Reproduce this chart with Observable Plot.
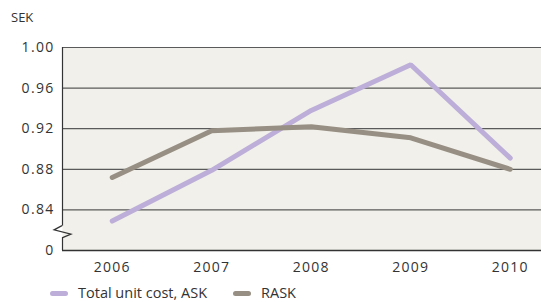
<!DOCTYPE html>
<html><head><meta charset="utf-8">
<script src="https://cdn.jsdelivr.net/npm/d3@7"></script>
<script src="https://cdn.jsdelivr.net/npm/@observablehq/plot@0.6"></script>
<style>
body{margin:0;background:#fff;font-family:"Open Sans",sans-serif;}
#wrap{position:relative;width:541px;height:302px;overflow:hidden;}
#unit{position:absolute;left:11px;top:8px;font-size:13px;color:#333;}
#legend{position:absolute;left:50px;top:285px;height:16px;line-height:16px;font-size:14.5px;color:#333;display:flex;align-items:center;}
.sw{display:inline-block;width:18px;height:5px;border-radius:3px;margin-right:10px;}
.item{display:flex;align-items:center;margin-right:26px;white-space:nowrap;}
</style></head>
<body><div id="wrap"><div id="unit">SEK</div><div id="chart"></div>
<div id="legend"></div></div>
<script>
const years = [2006, 2007, 2008, 2009, 2010];
const askValues = [0.829, 0.879, 0.938, 0.983, 0.891];
const raskValues = [0.872, 0.918, 0.922, 0.911, 0.880];
const seriesNames = ["Total unit cost, ASK", "RASK"];
const seriesColors = ["#bcaed8", "#978f83"];
const yTicks = [0.80, 0.84, 0.88, 0.92, 0.96, 1.00];
const axisBreak = [0.812, 0.824];

const rows = [];
years.forEach((yr, i) => {
  rows.push({year: yr, value: askValues[i], series: seriesNames[0]});
  rows.push({year: yr, value: raskValues[i], series: seriesNames[1]});
});

function zigzag(index, scales, values, dims) {
  const x0 = dims.marginLeft;
  const y1 = scales.y(axisBreak[1]);
  const y0 = scales.y(axisBreak[0]);
  const h = y0 - y1;
  const p = d3.path();
  p.moveTo(x0, y1);
  p.lineTo(x0 - 8, y1 + h * 0.35);
  p.lineTo(x0 + 9, y1 + h * 0.7);
  p.lineTo(x0, y0);
  const g = d3.create("svg:path").attr("d", p.toString()).attr("fill", "none")
    .attr("stroke", "#333").attr("stroke-width", 1.2);
  return g.node();
}

const chart = Plot.plot({
  width: 541, height: 302,
  marginTop: 47, marginBottom: 52, marginLeft: 62, marginRight: 0,
  style: {fontFamily: "Open Sans, sans-serif", fontSize: "14px", letterSpacing: "1.3px", color: "#333", background: "transparent"},
  x: {type: "linear", domain: [2005.5, 2010.314], ticks: years, tickFormat: d => String(d), tickSize: 0, tickPadding: 12, label: null},
  y: {domain: [0.80, 1.00], ticks: yTicks, tickFormat: d => Math.abs(d - 0.80) < 1e-9 ? "0" : d.toFixed(2), tickSize: 0, tickPadding: 8, label: null},
  color: {domain: seriesNames, range: seriesColors},
  marks: [
    Plot.frame({fill: "#f1f0ea", stroke: null}),
    Plot.ruleY(yTicks.slice(1), {stroke: "#5a5a5a", strokeWidth: 1.2}),
    Plot.ruleY([0.80], {stroke: "#333", strokeWidth: 1.3}),
    Plot.ruleX([2005.5], {y1: 0.80, y2: axisBreak[0], stroke: "#333", strokeWidth: 1.2}),
    Plot.ruleX([2005.5], {y1: axisBreak[1], y2: 1.00, stroke: "#333", strokeWidth: 1.2}),
    zigzag,
    Plot.line(rows, {x: "year", y: "value", stroke: "series", z: "series", strokeWidth: 5, strokeLinecap: "round", strokeLinejoin: "miter"})
  ]
});
document.getElementById("chart").appendChild(chart);

const lg = document.getElementById("legend");
seriesNames.forEach((n, i) => {
  const it = document.createElement("div"); it.className = "item";
  const sw = document.createElement("span"); sw.className = "sw"; sw.style.background = seriesColors[i];
  it.appendChild(sw); it.appendChild(document.createTextNode(n));
  lg.appendChild(it);
});
</script></body></html>
